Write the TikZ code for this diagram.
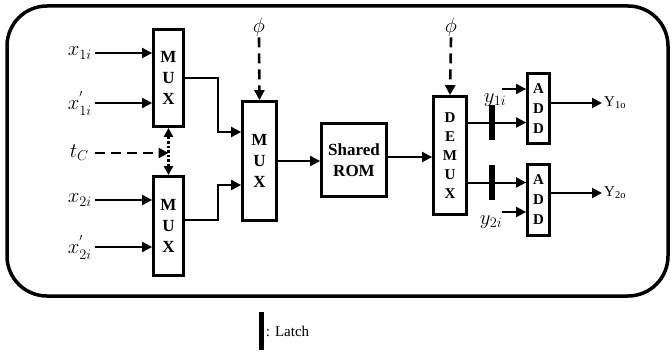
\documentclass[tikz,border=0pt]{standalone}
\usepackage{amsmath}
\usepackage{amssymb}
\usepackage{fontspec}
\setmainfont{Liberation Serif}
\usepackage{tikz}
\usepackage{xcolor}
\usetikzlibrary{arrows.meta,calc}

\tikzset{
  blk/.style={draw, line width=2.8pt, inner sep=0pt, align=center, fill=white,
    font=\bfseries\fontsize{17}{21}\selectfont},
  sig/.style={line width=2pt, -{Triangle[length=10pt,width=10pt]}},
  ctl/.style={line width=2.6pt, dash pattern=on 10pt off 6pt, -{Triangle[length=10pt,width=10pt]}},
  lbl/.style={inner sep=1pt, font=\fontsize{21}{24}\selectfont},
  latchbar/.style={fill=black, inner sep=0pt, minimum width=6pt, minimum height=35pt}
}

\begin{document}
\begin{tikzpicture}[x=1pt, y=-1pt]

		% Fix the size of the page
		\useasboundingbox (0,0) rectangle (671,353);

		% Draw the rounded frame round the circuit
		\draw[line width=3.5pt, rounded corners=40pt] (7,6) rectangle (668,296);

		% The two input multiplexers
		\node[blk, minimum width=30pt, minimum height=97pt] (mux1) at (168.5,78) {M\\U\\X};
		\node[blk, minimum width=30pt, minimum height=99pt] (mux2) at (168.5,226) {M\\U\\X};

		% The second stage multiplexer and the shared ROM
		\node[blk, minimum width=34pt, minimum height=119pt] (mux3) at (259.5,161) {M\\U\\X};
		\node[blk, minimum width=65pt, minimum height=73pt] (rom) at (354,160) {Shared\\ROM};

		% The demultiplexer and the two adders
		\node[blk, minimum width=33pt, minimum height=118pt, font=\bfseries\fontsize{15}{19}\selectfont] (demux) at (450,155.5) {D\\E\\M\\U\\X};
		\node[blk, minimum width=22pt, minimum height=70pt, font=\bfseries\fontsize{15}{20}\selectfont] (add1) at (538.5,108.5) {A\\D\\D};
		\node[blk, minimum width=22pt, minimum height=71pt, font=\bfseries\fontsize{15}{20}\selectfont] (add2) at (538.5,200) {A\\D\\D};

		% Input labels on the left
		\node[lbl, anchor=east] (x1i) at (93,53) {$x_{1i}$};
		\node[lbl, anchor=east] (x1p) at (93,103) {$x^{'}_{1i}$};
		\node[lbl, anchor=east] (tc) at (90,153) {$t_C$};
		\node[lbl, anchor=east] (x2i) at (93,200) {$x_{2i}$};
		\node[lbl, anchor=east] (x2p) at (93,247) {$x^{'}_{2i}$};

		% Input arrows into the first multiplexers
		\draw[sig, shorten <=2pt] (x1i.east) -- (x1i.east -| mux1.west);
		\draw[sig, shorten <=2pt] (x1p.east) -- (x1p.east -| mux1.west);
		\draw[sig, shorten <=2pt] (x2i.east) -- (x2i.east -| mux2.west);
		\draw[sig, shorten <=2pt] (x2p.east) -- (x2p.east -| mux2.west);

		% Select line t_C and the dotted link between the multiplexers
		\draw[ctl, shorten <=5pt] (tc.east) -- (tc.east -| mux1.south);
		\draw[line width=2.6pt, dotted, {Triangle[length=9pt,width=9pt]}-{Triangle[length=9pt,width=9pt]}] (mux1.south) -- (mux2.north);

		% Multiplexer outputs into the second stage
		\draw[sig] (mux1.east) -| ++(33,0) |- ($(mux3.west)+(0,-29)$);
		\draw[sig] ($(mux2.east)+(0,-6)$) -- ++(33,0) |- ($(mux3.west)+(0,24)$);

		% Clock labels phi and their dashed arrows
		\node[lbl] (phi1) at (259,27) {$\phi$};
		\node[lbl] (phi2) at (451,27) {$\phi$};
		\draw[ctl] (phi1.south) -- (mux3.north);
		\draw[ctl] (phi2.south) -- (demux.north);

		% Through the ROM to the demultiplexer
		\coordinate (r1) at ($(rom.east)+(0,-3)$);
		\draw[sig] (mux3.east) -- (mux3.east -| rom.west);
		\draw[sig] (r1) -- (r1 -| demux.west);

		% Demultiplexer outputs with latches
		\coordinate (d1) at ($(demux.east)+(0,-33)$);
		\coordinate (d2) at ($(demux.east)+(0,27)$);
		\draw[sig] (d1) -- (d1 -| add1.west);
		\draw[sig] (d2) -- (d2 -| add2.west);
		\node[latchbar] (lat1) at (492,122.5) {};
		\node[latchbar] (lat2) at (492,182.5) {};

		% Second inputs of the adders
		\coordinate (y1s) at (502,89);
		\coordinate (y2s) at (502,212);
		\draw[sig] (y1s) -- (y1s -| add1.west);
		\draw[sig] (y2s) -- (y2s -| add2.west);
		\node[lbl] (y1i) at (495,100) {$y_{1i}$};
		\node[lbl] (y2i) at (491,222) {$y_{2i}$};

		% Adder outputs
		\node[inner sep=2pt, anchor=west, font=\fontsize{15}{18}\selectfont] (Y1o) at (602,103) {Y\textsubscript{1o}};
		\node[inner sep=2pt, anchor=west, font=\fontsize{15}{18}\selectfont] (Y2o) at (602,193) {Y\textsubscript{2o}};
		\draw[sig] ($(add1.east)+(0,-5.5)$) -- (Y1o.west);
		\draw[sig] ($(add2.east)+(0,-7)$) -- (Y2o.west);

		% Legend for the latch
		\node[fill=black, inner sep=0pt, minimum width=5pt, minimum height=38pt] (key) at (261,331) {};
		\node[anchor=west, inner sep=2pt, font=\fontsize{15}{18}\selectfont] (keytext) at (key.east) {: Latch};
	\end{tikzpicture}
\end{document}
